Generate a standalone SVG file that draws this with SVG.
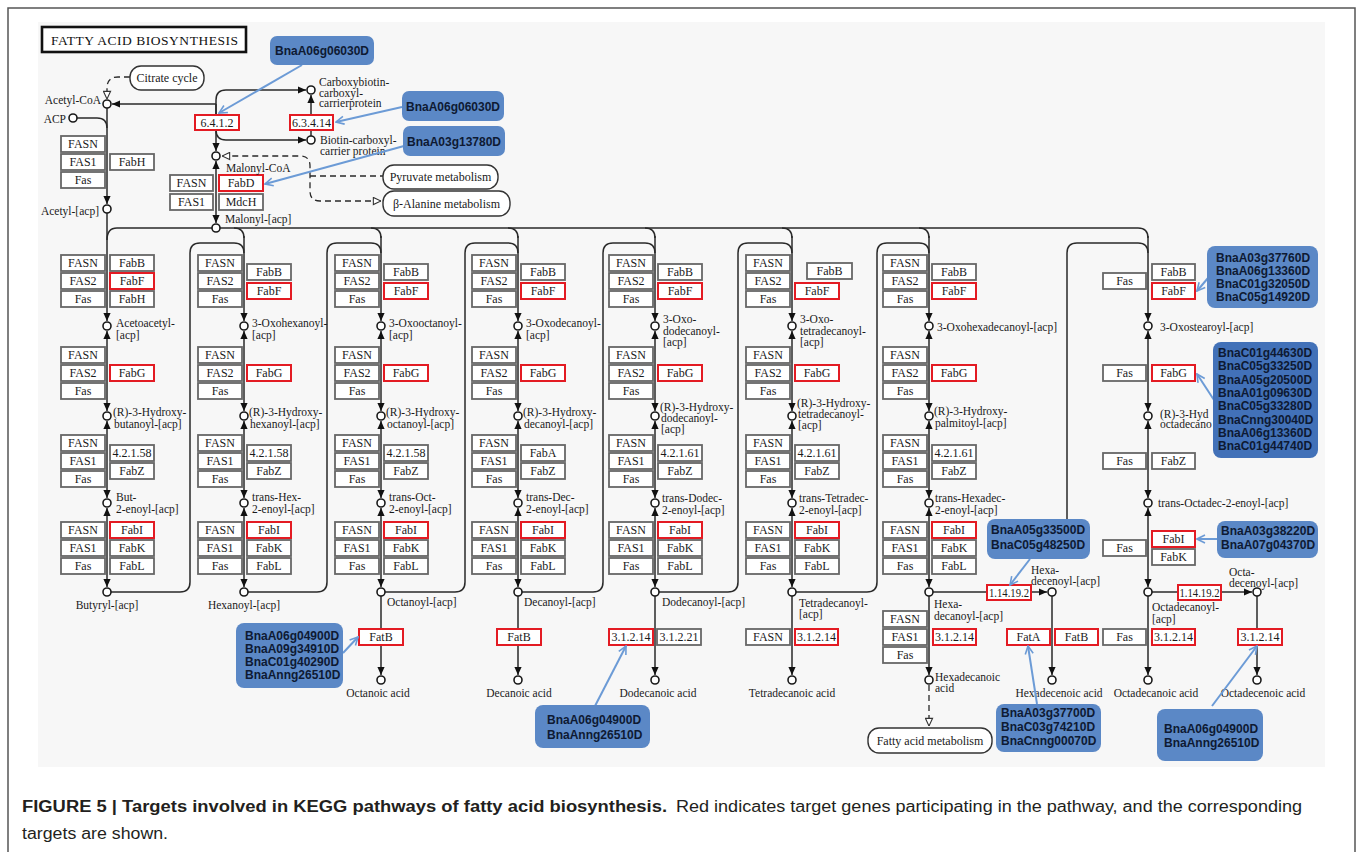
<svg xmlns="http://www.w3.org/2000/svg" width="1357" height="852" viewBox="0 0 1357 852">
<defs>
<style>
.bx{fill:#fff;stroke:#666;stroke-width:1.8}
.rb{fill:#fff;stroke:#e31b23;stroke-width:2}
.bt{font-family:"Liberation Serif","Times New Roman",serif;font-size:12px;fill:#1a1a1a;text-anchor:middle}
.lb{font-family:"Liberation Serif","Times New Roman",serif;font-size:11.5px;fill:#1a1a1a}
.mid{text-anchor:middle}
.end{text-anchor:end}
.ln{fill:none;stroke:#2a2a2a;stroke-width:1.5}
.dl{fill:none;stroke:#2a2a2a;stroke-width:1.3;stroke-dasharray:6 4}
.cp{fill:#fff;stroke:#1a1a1a;stroke-width:1.6}
.pw{fill:#fff;stroke:#333;stroke-width:1.4}
.bn{fill:#5b88c6}
.bn2{fill:#4271b8}
.bnt{font-family:"Liberation Sans",Arial,sans-serif;font-size:12px;font-weight:bold;fill:#0e1a33}
.ba{fill:none;stroke:#6c9bd6;stroke-width:2}
.cap{font-family:"Liberation Sans",Arial,sans-serif;font-size:16px;fill:#231f20}
</style>
<marker id="ah" viewBox="0 0 10 10" refX="10" refY="5" markerWidth="8" markerHeight="8" markerUnits="userSpaceOnUse" orient="auto-start-reverse"><path d="M0,0.5L10,5L0,9.5z" fill="#111"/></marker>
<marker id="ho" viewBox="0 0 10 10" refX="9.5" refY="5" markerWidth="9" markerHeight="9" markerUnits="userSpaceOnUse" orient="auto-start-reverse"><path d="M1,1L9.5,5L1,9z" fill="#fff" stroke="#333" stroke-width="1.2"/></marker>
<marker id="bh" viewBox="0 0 10 10" refX="9" refY="5" markerWidth="10" markerHeight="10" markerUnits="userSpaceOnUse" orient="auto"><path d="M1,1L9,5L1,9" fill="none" stroke="#6c9bd6" stroke-width="1.6"/></marker>
</defs>
<rect width="1357" height="852" fill="#fff"/>
<path d="M8,852V8H1355V852" fill="none" stroke="#555" stroke-width="1.5"/>
<rect x="38" y="22" width="1287" height="745" fill="#f7f7f7"/>
<g id="title"><rect x="42" y="27" width="204" height="25" fill="#fff" stroke="#111" stroke-width="2.6"/><text x="51" y="45" font-family="Liberation Serif, serif" font-size="13.5" fill="#111" textLength="187" lengthAdjust="spacing">FATTY ACID BIOSYNTHESIS</text></g>

<g id="connectors">
<path class="dl" d="M130,77H118Q107,77 107,88V99" marker-end="url(#ho)"/>
<path class="ln" d="M107,108V204" marker-end="url(#ah)"/>
<path class="ln" d="M77,118H97Q107,118 107,128"/>
<path class="ln" d="M216,104H112" marker-end="url(#ah)"/>
<path class="ln" d="M216,104V100Q216,90 226,90H306" marker-end="url(#ah)"/>
<path class="ln" d="M216,104V130Q216,140 226,140H306" marker-end="url(#ah)"/>
<path class="ln" d="M216,104V151" marker-end="url(#ah)"/>
<path class="ln" d="M311,136V95" marker-end="url(#ah)"/>
<path class="ln" d="M216,161V223" marker-start="url(#ah)" marker-end="url(#ah)"/>
<path class="dl" d="M381,201H320Q310,201 310,191V166Q310,156 300,156H222" marker-start="url(#ho)" marker-end="url(#ho)"/>
<path class="dl" d="M310,176H383"/>
<path class="ln" d="M107,240Q107,228 117,228H1138Q1148,228 1148,238"/>
<path class="ln" d="M234,228Q244,228 244,238M371,228Q381,228 381,238M508,228Q518,228 518,238M645,228Q655,228 655,238M782,228Q792,228 792,238M919,228Q929,228 929,238"/>
<path class="ln" d="M107,213V321" marker-end="url(#ah)"/>
<path class="ln" d="M244,236V321" marker-end="url(#ah)"/>
<path class="ln" d="M381,236V321" marker-end="url(#ah)"/>
<path class="ln" d="M518,236V321" marker-end="url(#ah)"/>
<path class="ln" d="M655,236V321" marker-end="url(#ah)"/>
<path class="ln" d="M792,236V321" marker-end="url(#ah)"/>
<path class="ln" d="M929,236V321" marker-end="url(#ah)"/>
<path class="ln" d="M1148,236V321" marker-end="url(#ah)"/>
<path class="ln" d="M107,331V411" marker-start="url(#ah)" marker-end="url(#ah)"/>
<path class="ln" d="M244,331V411" marker-start="url(#ah)" marker-end="url(#ah)"/>
<path class="ln" d="M381,331V411" marker-start="url(#ah)" marker-end="url(#ah)"/>
<path class="ln" d="M518,331V411" marker-start="url(#ah)" marker-end="url(#ah)"/>
<path class="ln" d="M655,331V411" marker-start="url(#ah)" marker-end="url(#ah)"/>
<path class="ln" d="M792,331V411" marker-start="url(#ah)" marker-end="url(#ah)"/>
<path class="ln" d="M929,331V411" marker-start="url(#ah)" marker-end="url(#ah)"/>
<path class="ln" d="M1148,331V411" marker-start="url(#ah)" marker-end="url(#ah)"/>
<path class="ln" d="M107,421V498" marker-start="url(#ah)" marker-end="url(#ah)"/>
<path class="ln" d="M244,421V498" marker-start="url(#ah)" marker-end="url(#ah)"/>
<path class="ln" d="M381,421V498" marker-start="url(#ah)" marker-end="url(#ah)"/>
<path class="ln" d="M518,421V498" marker-start="url(#ah)" marker-end="url(#ah)"/>
<path class="ln" d="M655,421V498" marker-start="url(#ah)" marker-end="url(#ah)"/>
<path class="ln" d="M792,421V498" marker-start="url(#ah)" marker-end="url(#ah)"/>
<path class="ln" d="M929,421V498" marker-start="url(#ah)" marker-end="url(#ah)"/>
<path class="ln" d="M1148,421V498" marker-start="url(#ah)" marker-end="url(#ah)"/>
<path class="ln" d="M107,508V587" marker-start="url(#ah)" marker-end="url(#ah)"/>
<path class="ln" d="M244,508V587" marker-start="url(#ah)" marker-end="url(#ah)"/>
<path class="ln" d="M381,508V587" marker-start="url(#ah)" marker-end="url(#ah)"/>
<path class="ln" d="M518,508V587" marker-start="url(#ah)" marker-end="url(#ah)"/>
<path class="ln" d="M655,508V587" marker-start="url(#ah)" marker-end="url(#ah)"/>
<path class="ln" d="M792,508V587" marker-start="url(#ah)" marker-end="url(#ah)"/>
<path class="ln" d="M929,508V587" marker-start="url(#ah)" marker-end="url(#ah)"/>
<path class="ln" d="M1148,508V587" marker-start="url(#ah)" marker-end="url(#ah)"/>
<path class="ln" d="M111,592H180Q190,592 190,582V253Q190,243 200,243H234Q244,243 244,253"/>
<path class="ln" d="M248,592H317Q327,592 327,582V253Q327,243 337,243H371Q381,243 381,253"/>
<path class="ln" d="M385,592H455Q465,592 465,582V253Q465,243 475,243H508Q518,243 518,253"/>
<path class="ln" d="M522,592H593Q603,592 603,582V253Q603,243 613,243H645Q655,243 655,253"/>
<path class="ln" d="M659,592H728Q738,592 738,582V253Q738,243 748,243H782Q792,243 792,253"/>
<path class="ln" d="M796,592H867Q877,592 877,582V253Q877,243 887,243H919Q929,243 929,253"/>
<path class="ln" d="M1067,535V253Q1067,243 1077,243H1138Q1148,243 1148,253"/>
<path class="ln" d="M381,596V675" marker-end="url(#ah)"/>
<path class="ln" d="M518,596V675" marker-end="url(#ah)"/>
<path class="ln" d="M655,596V675" marker-end="url(#ah)"/>
<path class="ln" d="M792,596V675" marker-end="url(#ah)"/>
<path class="ln" d="M929,596V675" marker-end="url(#ah)"/>
<path class="ln" d="M1052,596V675" marker-end="url(#ah)"/>
<path class="ln" d="M1148,596V675" marker-end="url(#ah)"/>
<path class="ln" d="M1257,596V675" marker-end="url(#ah)"/>
<path class="dl" d="M929,685V726" marker-end="url(#ho)"/>
<path class="ln" d="M933,592H987"/>
<path class="ln" d="M1031,592H1047" marker-end="url(#ah)"/>
<path class="ln" d="M1152,592H1178"/>
<path class="ln" d="M1221,592H1252" marker-end="url(#ah)"/>
</g>

<g id="pathway-links">
<g id="p-citrate"><rect class="pw" x="130" y="66" width="74" height="24" rx="11"/><text class="bt" x="167" y="82">Citrate cycle</text></g>
<g id="p-pyruvate"><rect class="pw" x="383" y="165" width="115" height="24" rx="11"/><text class="bt" x="440.5" y="181">Pyruvate metabolism</text></g>
<g id="p-balanine"><rect class="pw" x="383" y="191" width="127" height="25" rx="11"/><text class="bt" x="446.5" y="207.5">β-Alanine metabolism</text></g>
<g id="p-fattyacid"><rect class="pw" x="868" y="728" width="124" height="25" rx="11"/><text class="bt" x="930" y="744.5">Fatty acid metabolism</text></g>
</g>

<g id="top-enzymes">
<g id="e-6412"><rect class="rb" x="195" y="115" width="44" height="15"/><text class="bt" x="217" y="127">6.4.1.2</text></g>
<g id="e-63414"><rect class="rb" x="290" y="115" width="43" height="15"/><text class="bt" x="311.5" y="127">6.3.4.14</text></g>
<g id="e-md-fasn"><rect class="bx" x="170" y="175" width="43" height="16"/><text class="bt" x="191.5" y="187.3">FASN</text></g>
<g id="e-md-fabd"><rect class="rb" x="219" y="175" width="44" height="16"/><text class="bt" x="241" y="187.3">FabD</text></g>
<g id="e-md-fas1"><rect class="bx" x="170" y="194" width="43" height="16"/><text class="bt" x="191.5" y="206.3">FAS1</text></g>
<g id="e-md-mdch"><rect class="bx" x="219" y="194" width="44" height="16"/><text class="bt" x="241" y="206.3">MdcH</text></g>
<g id="e-ac-fasn"><rect class="bx" x="61" y="136" width="44" height="16"/><text class="bt" x="83" y="148.3">FASN</text></g>
<g id="e-ac-fas1"><rect class="bx" x="61" y="154" width="44" height="16"/><text class="bt" x="83" y="166.3">FAS1</text></g>
<g id="e-ac-fas"><rect class="bx" x="61" y="172" width="44" height="16"/><text class="bt" x="83" y="184.3">Fas</text></g>
<g id="e-ac-fabh"><rect class="bx" x="110" y="154" width="44" height="16"/><text class="bt" x="132" y="166.3">FabH</text></g>
</g>

<g id="col1" transform="translate(107,0)">
<g id="c1-a1"><rect class="bx" x="-46" y="255" width="44" height="16"/><text class="bt" x="-24" y="267.3">FASN</text></g>
<g id="c1-a2"><rect class="bx" x="-46" y="273" width="44" height="16"/><text class="bt" x="-24" y="285.3">FAS2</text></g>
<g id="c1-a3"><rect class="bx" x="-46" y="291" width="44" height="16"/><text class="bt" x="-24" y="303.3">Fas</text></g>
<g id="c1-a4"><rect class="bx" x="3" y="255" width="44" height="16"/><text class="bt" x="25" y="267.3">FabB</text></g>
<g id="c1-a5"><rect class="rb" x="3" y="273" width="44" height="16"/><text class="bt" x="25" y="285.3">FabF</text></g>
<g id="c1-a6"><rect class="bx" x="3" y="291" width="44" height="16"/><text class="bt" x="25" y="303.3">FabH</text></g>
<g id="c1-b1"><rect class="bx" x="-46" y="347" width="44" height="16"/><text class="bt" x="-24" y="359.3">FASN</text></g>
<g id="c1-b2"><rect class="bx" x="-46" y="365" width="44" height="16"/><text class="bt" x="-24" y="377.3">FAS2</text></g>
<g id="c1-b3"><rect class="bx" x="-46" y="383" width="44" height="16"/><text class="bt" x="-24" y="395.3">Fas</text></g>
<g id="c1-b4"><rect class="rb" x="3" y="365" width="44" height="16"/><text class="bt" x="25" y="377.3">FabG</text></g>
<g id="c1-c1"><rect class="bx" x="-46" y="435" width="44" height="16"/><text class="bt" x="-24" y="447.3">FASN</text></g>
<g id="c1-c2"><rect class="bx" x="-46" y="453" width="44" height="16"/><text class="bt" x="-24" y="465.3">FAS1</text></g>
<g id="c1-c3"><rect class="bx" x="-46" y="471" width="44" height="16"/><text class="bt" x="-24" y="483.3">Fas</text></g>
<g id="c1-c4"><rect class="bx" x="3" y="445" width="44" height="16"/><text class="bt" x="25" y="457.3">4.2.1.58</text></g>
<g id="c1-c5"><rect class="bx" x="3" y="463" width="44" height="16"/><text class="bt" x="25" y="475.3">FabZ</text></g>
<g id="c1-d1"><rect class="bx" x="-46" y="522" width="44" height="16"/><text class="bt" x="-24" y="534.3">FASN</text></g>
<g id="c1-d2"><rect class="bx" x="-46" y="540" width="44" height="16"/><text class="bt" x="-24" y="552.3">FAS1</text></g>
<g id="c1-d3"><rect class="bx" x="-46" y="558" width="44" height="16"/><text class="bt" x="-24" y="570.3">Fas</text></g>
<g id="c1-d4"><rect class="rb" x="3" y="522" width="44" height="16"/><text class="bt" x="25" y="534.3">FabI</text></g>
<g id="c1-d5"><rect class="bx" x="3" y="540" width="44" height="16"/><text class="bt" x="25" y="552.3">FabK</text></g>
<g id="c1-d6"><rect class="bx" x="3" y="558" width="44" height="16"/><text class="bt" x="25" y="570.3">FabL</text></g>
</g>

<g id="col2" transform="translate(244,0)">
<g id="c2-a1"><rect class="bx" x="-46" y="255" width="44" height="16"/><text class="bt" x="-24" y="267.3">FASN</text></g>
<g id="c2-a2"><rect class="bx" x="-46" y="273" width="44" height="16"/><text class="bt" x="-24" y="285.3">FAS2</text></g>
<g id="c2-a3"><rect class="bx" x="-46" y="291" width="44" height="16"/><text class="bt" x="-24" y="303.3">Fas</text></g>
<g id="c2-a4"><rect class="bx" x="3" y="264" width="44" height="16"/><text class="bt" x="25" y="276.3">FabB</text></g>
<g id="c2-a5"><rect class="rb" x="3" y="283" width="44" height="16"/><text class="bt" x="25" y="295.3">FabF</text></g>
<g id="c2-b1"><rect class="bx" x="-46" y="347" width="44" height="16"/><text class="bt" x="-24" y="359.3">FASN</text></g>
<g id="c2-b2"><rect class="bx" x="-46" y="365" width="44" height="16"/><text class="bt" x="-24" y="377.3">FAS2</text></g>
<g id="c2-b3"><rect class="bx" x="-46" y="383" width="44" height="16"/><text class="bt" x="-24" y="395.3">Fas</text></g>
<g id="c2-b4"><rect class="rb" x="3" y="365" width="44" height="16"/><text class="bt" x="25" y="377.3">FabG</text></g>
<g id="c2-c1"><rect class="bx" x="-46" y="435" width="44" height="16"/><text class="bt" x="-24" y="447.3">FASN</text></g>
<g id="c2-c2"><rect class="bx" x="-46" y="453" width="44" height="16"/><text class="bt" x="-24" y="465.3">FAS1</text></g>
<g id="c2-c3"><rect class="bx" x="-46" y="471" width="44" height="16"/><text class="bt" x="-24" y="483.3">Fas</text></g>
<g id="c2-c4"><rect class="bx" x="3" y="445" width="44" height="16"/><text class="bt" x="25" y="457.3">4.2.1.58</text></g>
<g id="c2-c5"><rect class="bx" x="3" y="463" width="44" height="16"/><text class="bt" x="25" y="475.3">FabZ</text></g>
<g id="c2-d1"><rect class="bx" x="-46" y="522" width="44" height="16"/><text class="bt" x="-24" y="534.3">FASN</text></g>
<g id="c2-d2"><rect class="bx" x="-46" y="540" width="44" height="16"/><text class="bt" x="-24" y="552.3">FAS1</text></g>
<g id="c2-d3"><rect class="bx" x="-46" y="558" width="44" height="16"/><text class="bt" x="-24" y="570.3">Fas</text></g>
<g id="c2-d4"><rect class="rb" x="3" y="522" width="44" height="16"/><text class="bt" x="25" y="534.3">FabI</text></g>
<g id="c2-d5"><rect class="bx" x="3" y="540" width="44" height="16"/><text class="bt" x="25" y="552.3">FabK</text></g>
<g id="c2-d6"><rect class="bx" x="3" y="558" width="44" height="16"/><text class="bt" x="25" y="570.3">FabL</text></g>
</g>

<g id="col3" transform="translate(381,0)">
<g id="c3-a1"><rect class="bx" x="-46" y="255" width="44" height="16"/><text class="bt" x="-24" y="267.3">FASN</text></g>
<g id="c3-a2"><rect class="bx" x="-46" y="273" width="44" height="16"/><text class="bt" x="-24" y="285.3">FAS2</text></g>
<g id="c3-a3"><rect class="bx" x="-46" y="291" width="44" height="16"/><text class="bt" x="-24" y="303.3">Fas</text></g>
<g id="c3-a4"><rect class="bx" x="3" y="264" width="44" height="16"/><text class="bt" x="25" y="276.3">FabB</text></g>
<g id="c3-a5"><rect class="rb" x="3" y="283" width="44" height="16"/><text class="bt" x="25" y="295.3">FabF</text></g>
<g id="c3-b1"><rect class="bx" x="-46" y="347" width="44" height="16"/><text class="bt" x="-24" y="359.3">FASN</text></g>
<g id="c3-b2"><rect class="bx" x="-46" y="365" width="44" height="16"/><text class="bt" x="-24" y="377.3">FAS2</text></g>
<g id="c3-b3"><rect class="bx" x="-46" y="383" width="44" height="16"/><text class="bt" x="-24" y="395.3">Fas</text></g>
<g id="c3-b4"><rect class="rb" x="3" y="365" width="44" height="16"/><text class="bt" x="25" y="377.3">FabG</text></g>
<g id="c3-c1"><rect class="bx" x="-46" y="435" width="44" height="16"/><text class="bt" x="-24" y="447.3">FASN</text></g>
<g id="c3-c2"><rect class="bx" x="-46" y="453" width="44" height="16"/><text class="bt" x="-24" y="465.3">FAS1</text></g>
<g id="c3-c3"><rect class="bx" x="-46" y="471" width="44" height="16"/><text class="bt" x="-24" y="483.3">Fas</text></g>
<g id="c3-c4"><rect class="bx" x="3" y="445" width="44" height="16"/><text class="bt" x="25" y="457.3">4.2.1.58</text></g>
<g id="c3-c5"><rect class="bx" x="3" y="463" width="44" height="16"/><text class="bt" x="25" y="475.3">FabZ</text></g>
<g id="c3-d1"><rect class="bx" x="-46" y="522" width="44" height="16"/><text class="bt" x="-24" y="534.3">FASN</text></g>
<g id="c3-d2"><rect class="bx" x="-46" y="540" width="44" height="16"/><text class="bt" x="-24" y="552.3">FAS1</text></g>
<g id="c3-d3"><rect class="bx" x="-46" y="558" width="44" height="16"/><text class="bt" x="-24" y="570.3">Fas</text></g>
<g id="c3-d4"><rect class="rb" x="3" y="522" width="44" height="16"/><text class="bt" x="25" y="534.3">FabI</text></g>
<g id="c3-d5"><rect class="bx" x="3" y="540" width="44" height="16"/><text class="bt" x="25" y="552.3">FabK</text></g>
<g id="c3-d6"><rect class="bx" x="3" y="558" width="44" height="16"/><text class="bt" x="25" y="570.3">FabL</text></g>
<g id="c3-e1"><rect class="rb" x="-22" y="629" width="44" height="16"/><text class="bt" x="0" y="641.3">FatB</text></g>
</g>

<g id="col4" transform="translate(518,0)">
<g id="c4-a1"><rect class="bx" x="-46" y="255" width="44" height="16"/><text class="bt" x="-24" y="267.3">FASN</text></g>
<g id="c4-a2"><rect class="bx" x="-46" y="273" width="44" height="16"/><text class="bt" x="-24" y="285.3">FAS2</text></g>
<g id="c4-a3"><rect class="bx" x="-46" y="291" width="44" height="16"/><text class="bt" x="-24" y="303.3">Fas</text></g>
<g id="c4-a4"><rect class="bx" x="3" y="264" width="44" height="16"/><text class="bt" x="25" y="276.3">FabB</text></g>
<g id="c4-a5"><rect class="rb" x="3" y="283" width="44" height="16"/><text class="bt" x="25" y="295.3">FabF</text></g>
<g id="c4-b1"><rect class="bx" x="-46" y="347" width="44" height="16"/><text class="bt" x="-24" y="359.3">FASN</text></g>
<g id="c4-b2"><rect class="bx" x="-46" y="365" width="44" height="16"/><text class="bt" x="-24" y="377.3">FAS2</text></g>
<g id="c4-b3"><rect class="bx" x="-46" y="383" width="44" height="16"/><text class="bt" x="-24" y="395.3">Fas</text></g>
<g id="c4-b4"><rect class="rb" x="3" y="365" width="44" height="16"/><text class="bt" x="25" y="377.3">FabG</text></g>
<g id="c4-c1"><rect class="bx" x="-46" y="435" width="44" height="16"/><text class="bt" x="-24" y="447.3">FASN</text></g>
<g id="c4-c2"><rect class="bx" x="-46" y="453" width="44" height="16"/><text class="bt" x="-24" y="465.3">FAS1</text></g>
<g id="c4-c3"><rect class="bx" x="-46" y="471" width="44" height="16"/><text class="bt" x="-24" y="483.3">Fas</text></g>
<g id="c4-c4"><rect class="bx" x="3" y="445" width="44" height="16"/><text class="bt" x="25" y="457.3">FabA</text></g>
<g id="c4-c5"><rect class="bx" x="3" y="463" width="44" height="16"/><text class="bt" x="25" y="475.3">FabZ</text></g>
<g id="c4-d1"><rect class="bx" x="-46" y="522" width="44" height="16"/><text class="bt" x="-24" y="534.3">FASN</text></g>
<g id="c4-d2"><rect class="bx" x="-46" y="540" width="44" height="16"/><text class="bt" x="-24" y="552.3">FAS1</text></g>
<g id="c4-d3"><rect class="bx" x="-46" y="558" width="44" height="16"/><text class="bt" x="-24" y="570.3">Fas</text></g>
<g id="c4-d4"><rect class="rb" x="3" y="522" width="44" height="16"/><text class="bt" x="25" y="534.3">FabI</text></g>
<g id="c4-d5"><rect class="bx" x="3" y="540" width="44" height="16"/><text class="bt" x="25" y="552.3">FabK</text></g>
<g id="c4-d6"><rect class="bx" x="3" y="558" width="44" height="16"/><text class="bt" x="25" y="570.3">FabL</text></g>
<g id="c4-e1"><rect class="rb" x="-21" y="629" width="44" height="16"/><text class="bt" x="1" y="641.3">FatB</text></g>
</g>

<g id="col5" transform="translate(655,0)">
<g id="c5-a1"><rect class="bx" x="-46" y="255" width="44" height="16"/><text class="bt" x="-24" y="267.3">FASN</text></g>
<g id="c5-a2"><rect class="bx" x="-46" y="273" width="44" height="16"/><text class="bt" x="-24" y="285.3">FAS2</text></g>
<g id="c5-a3"><rect class="bx" x="-46" y="291" width="44" height="16"/><text class="bt" x="-24" y="303.3">Fas</text></g>
<g id="c5-a4"><rect class="bx" x="3" y="264" width="44" height="16"/><text class="bt" x="25" y="276.3">FabB</text></g>
<g id="c5-a5"><rect class="rb" x="3" y="283" width="44" height="16"/><text class="bt" x="25" y="295.3">FabF</text></g>
<g id="c5-b1"><rect class="bx" x="-46" y="347" width="44" height="16"/><text class="bt" x="-24" y="359.3">FASN</text></g>
<g id="c5-b2"><rect class="bx" x="-46" y="365" width="44" height="16"/><text class="bt" x="-24" y="377.3">FAS2</text></g>
<g id="c5-b3"><rect class="bx" x="-46" y="383" width="44" height="16"/><text class="bt" x="-24" y="395.3">Fas</text></g>
<g id="c5-b4"><rect class="rb" x="3" y="365" width="44" height="16"/><text class="bt" x="25" y="377.3">FabG</text></g>
<g id="c5-c1"><rect class="bx" x="-46" y="435" width="44" height="16"/><text class="bt" x="-24" y="447.3">FASN</text></g>
<g id="c5-c2"><rect class="bx" x="-46" y="453" width="44" height="16"/><text class="bt" x="-24" y="465.3">FAS1</text></g>
<g id="c5-c3"><rect class="bx" x="-46" y="471" width="44" height="16"/><text class="bt" x="-24" y="483.3">Fas</text></g>
<g id="c5-c4"><rect class="bx" x="3" y="445" width="44" height="16"/><text class="bt" x="25" y="457.3">4.2.1.61</text></g>
<g id="c5-c5"><rect class="bx" x="3" y="463" width="44" height="16"/><text class="bt" x="25" y="475.3">FabZ</text></g>
<g id="c5-d1"><rect class="bx" x="-46" y="522" width="44" height="16"/><text class="bt" x="-24" y="534.3">FASN</text></g>
<g id="c5-d2"><rect class="bx" x="-46" y="540" width="44" height="16"/><text class="bt" x="-24" y="552.3">FAS1</text></g>
<g id="c5-d3"><rect class="bx" x="-46" y="558" width="44" height="16"/><text class="bt" x="-24" y="570.3">Fas</text></g>
<g id="c5-d4"><rect class="rb" x="3" y="522" width="44" height="16"/><text class="bt" x="25" y="534.3">FabI</text></g>
<g id="c5-d5"><rect class="bx" x="3" y="540" width="44" height="16"/><text class="bt" x="25" y="552.3">FabK</text></g>
<g id="c5-d6"><rect class="bx" x="3" y="558" width="44" height="16"/><text class="bt" x="25" y="570.3">FabL</text></g>
<g id="c5-e1"><rect class="rb" x="-46" y="629" width="44" height="16"/><text class="bt" x="-24" y="641.3">3.1.2.14</text></g>
<g id="c5-e2"><rect class="bx" x="2" y="629" width="44" height="16"/><text class="bt" x="24" y="641.3">3.1.2.21</text></g>
</g>

<g id="col6" transform="translate(792,0)">
<g id="c6-a1"><rect class="bx" x="-46" y="255" width="44" height="16"/><text class="bt" x="-24" y="267.3">FASN</text></g>
<g id="c6-a2"><rect class="bx" x="-46" y="273" width="44" height="16"/><text class="bt" x="-24" y="285.3">FAS2</text></g>
<g id="c6-a3"><rect class="bx" x="-46" y="291" width="44" height="16"/><text class="bt" x="-24" y="303.3">Fas</text></g>
<g id="c6-a4"><rect class="bx" x="15" y="263" width="45" height="16"/><text class="bt" x="37.5" y="275.3">FabB</text></g>
<g id="c6-a5"><rect class="rb" x="3" y="283" width="44" height="16"/><text class="bt" x="25" y="295.3">FabF</text></g>
<g id="c6-b1"><rect class="bx" x="-46" y="347" width="44" height="16"/><text class="bt" x="-24" y="359.3">FASN</text></g>
<g id="c6-b2"><rect class="bx" x="-46" y="365" width="44" height="16"/><text class="bt" x="-24" y="377.3">FAS2</text></g>
<g id="c6-b3"><rect class="bx" x="-46" y="383" width="44" height="16"/><text class="bt" x="-24" y="395.3">Fas</text></g>
<g id="c6-b4"><rect class="rb" x="3" y="365" width="44" height="16"/><text class="bt" x="25" y="377.3">FabG</text></g>
<g id="c6-c1"><rect class="bx" x="-46" y="435" width="44" height="16"/><text class="bt" x="-24" y="447.3">FASN</text></g>
<g id="c6-c2"><rect class="bx" x="-46" y="453" width="44" height="16"/><text class="bt" x="-24" y="465.3">FAS1</text></g>
<g id="c6-c3"><rect class="bx" x="-46" y="471" width="44" height="16"/><text class="bt" x="-24" y="483.3">Fas</text></g>
<g id="c6-c4"><rect class="bx" x="3" y="445" width="44" height="16"/><text class="bt" x="25" y="457.3">4.2.1.61</text></g>
<g id="c6-c5"><rect class="bx" x="3" y="463" width="44" height="16"/><text class="bt" x="25" y="475.3">FabZ</text></g>
<g id="c6-d1"><rect class="bx" x="-46" y="522" width="44" height="16"/><text class="bt" x="-24" y="534.3">FASN</text></g>
<g id="c6-d2"><rect class="bx" x="-46" y="540" width="44" height="16"/><text class="bt" x="-24" y="552.3">FAS1</text></g>
<g id="c6-d3"><rect class="bx" x="-46" y="558" width="44" height="16"/><text class="bt" x="-24" y="570.3">Fas</text></g>
<g id="c6-d4"><rect class="rb" x="3" y="522" width="44" height="16"/><text class="bt" x="25" y="534.3">FabI</text></g>
<g id="c6-d5"><rect class="bx" x="3" y="540" width="44" height="16"/><text class="bt" x="25" y="552.3">FabK</text></g>
<g id="c6-d6"><rect class="bx" x="3" y="558" width="44" height="16"/><text class="bt" x="25" y="570.3">FabL</text></g>
<g id="c6-e1"><rect class="bx" x="-46" y="629" width="44" height="16"/><text class="bt" x="-24" y="641.3">FASN</text></g>
<g id="c6-e2"><rect class="rb" x="3" y="629" width="43" height="16"/><text class="bt" x="24.5" y="641.3">3.1.2.14</text></g>
</g>

<g id="col7" transform="translate(929,0)">
<g id="c7-a1"><rect class="bx" x="-46" y="255" width="44" height="16"/><text class="bt" x="-24" y="267.3">FASN</text></g>
<g id="c7-a2"><rect class="bx" x="-46" y="273" width="44" height="16"/><text class="bt" x="-24" y="285.3">FAS2</text></g>
<g id="c7-a3"><rect class="bx" x="-46" y="291" width="44" height="16"/><text class="bt" x="-24" y="303.3">Fas</text></g>
<g id="c7-a4"><rect class="bx" x="3" y="264" width="44" height="16"/><text class="bt" x="25" y="276.3">FabB</text></g>
<g id="c7-a5"><rect class="rb" x="3" y="283" width="44" height="16"/><text class="bt" x="25" y="295.3">FabF</text></g>
<g id="c7-b1"><rect class="bx" x="-46" y="347" width="44" height="16"/><text class="bt" x="-24" y="359.3">FASN</text></g>
<g id="c7-b2"><rect class="bx" x="-46" y="365" width="44" height="16"/><text class="bt" x="-24" y="377.3">FAS2</text></g>
<g id="c7-b3"><rect class="bx" x="-46" y="383" width="44" height="16"/><text class="bt" x="-24" y="395.3">Fas</text></g>
<g id="c7-b4"><rect class="rb" x="3" y="365" width="44" height="16"/><text class="bt" x="25" y="377.3">FabG</text></g>
<g id="c7-c1"><rect class="bx" x="-46" y="435" width="44" height="16"/><text class="bt" x="-24" y="447.3">FASN</text></g>
<g id="c7-c2"><rect class="bx" x="-46" y="453" width="44" height="16"/><text class="bt" x="-24" y="465.3">FAS1</text></g>
<g id="c7-c3"><rect class="bx" x="-46" y="471" width="44" height="16"/><text class="bt" x="-24" y="483.3">Fas</text></g>
<g id="c7-c4"><rect class="bx" x="3" y="445" width="44" height="16"/><text class="bt" x="25" y="457.3">4.2.1.61</text></g>
<g id="c7-c5"><rect class="bx" x="3" y="463" width="44" height="16"/><text class="bt" x="25" y="475.3">FabZ</text></g>
<g id="c7-d1"><rect class="bx" x="-46" y="522" width="44" height="16"/><text class="bt" x="-24" y="534.3">FASN</text></g>
<g id="c7-d2"><rect class="bx" x="-46" y="540" width="44" height="16"/><text class="bt" x="-24" y="552.3">FAS1</text></g>
<g id="c7-d3"><rect class="bx" x="-46" y="558" width="44" height="16"/><text class="bt" x="-24" y="570.3">Fas</text></g>
<g id="c7-d4"><rect class="rb" x="3" y="522" width="44" height="16"/><text class="bt" x="25" y="534.3">FabI</text></g>
<g id="c7-d5"><rect class="bx" x="3" y="540" width="44" height="16"/><text class="bt" x="25" y="552.3">FabK</text></g>
<g id="c7-d6"><rect class="bx" x="3" y="558" width="44" height="16"/><text class="bt" x="25" y="570.3">FabL</text></g>
<g id="c7-e1"><rect class="bx" x="-46" y="611" width="44" height="16"/><text class="bt" x="-24" y="623.3">FASN</text></g>
<g id="c7-e2"><rect class="bx" x="-46" y="629" width="44" height="16"/><text class="bt" x="-24" y="641.3">FAS1</text></g>
<g id="c7-e3"><rect class="bx" x="-46" y="647" width="44" height="16"/><text class="bt" x="-24" y="659.3">Fas</text></g>
<g id="c7-e4"><rect class="rb" x="4" y="629" width="43" height="16"/><text class="bt" x="25.5" y="641.3">3.1.2.14</text></g>
<g id="c7-f1"><rect class="rb" x="58" y="585" width="44" height="15"/><text class="bt" x="80" y="596.5" font-size="11" textLength="40" lengthAdjust="spacingAndGlyphs">1.14.19.2</text></g>
<g id="c7-f2"><rect class="rb" x="78" y="629" width="43" height="16"/><text class="bt" x="99.5" y="641.3">FatA</text></g>
<g id="c7-f3"><rect class="rb" x="126" y="629" width="43" height="16"/><text class="bt" x="147.5" y="641.3">FatB</text></g>
</g>

<g id="col8" transform="translate(1148,0)">
<g id="c8-a1"><rect class="bx" x="-45" y="273" width="43" height="16"/><text class="bt" x="-23.5" y="285.3">Fas</text></g>
<g id="c8-a2"><rect class="bx" x="4" y="264" width="43" height="16"/><text class="bt" x="25.5" y="276.3">FabB</text></g>
<g id="c8-a3"><rect class="rb" x="4" y="283" width="43" height="16"/><text class="bt" x="25.5" y="295.3">FabF</text></g>
<g id="c8-b1"><rect class="bx" x="-45" y="365" width="43" height="16"/><text class="bt" x="-23.5" y="377.3">Fas</text></g>
<g id="c8-b2"><rect class="rb" x="4" y="365" width="43" height="16"/><text class="bt" x="25.5" y="377.3">FabG</text></g>
<g id="c8-c1"><rect class="bx" x="-45" y="453" width="43" height="16"/><text class="bt" x="-23.5" y="465.3">Fas</text></g>
<g id="c8-c2"><rect class="bx" x="4" y="453" width="43" height="16"/><text class="bt" x="25.5" y="465.3">FabZ</text></g>
<g id="c8-d1"><rect class="bx" x="-45" y="540" width="43" height="16"/><text class="bt" x="-23.5" y="552.3">Fas</text></g>
<g id="c8-d2"><rect class="rb" x="4" y="531" width="43" height="16"/><text class="bt" x="25.5" y="543.3">FabI</text></g>
<g id="c8-d3"><rect class="bx" x="4" y="549" width="43" height="16"/><text class="bt" x="25.5" y="561.3">FabK</text></g>
<g id="c8-e1"><rect class="bx" x="-45" y="629" width="43" height="16"/><text class="bt" x="-23.5" y="641.3">Fas</text></g>
<g id="c8-e2"><rect class="rb" x="4" y="629" width="43" height="16"/><text class="bt" x="25.5" y="641.3">3.1.2.14</text></g>
<g id="c8-f1"><rect class="rb" x="30" y="585" width="43" height="15"/><text class="bt" x="51.5" y="596.5" font-size="11" textLength="40" lengthAdjust="spacingAndGlyphs">1.14.19.2</text></g>
<g id="c8-f2"><rect class="rb" x="90" y="629" width="44" height="16"/><text class="bt" x="112" y="641.3">3.1.2.14</text></g>
</g>

<g id="compounds">
<g id="n-acetylcoa"><circle class="cp" cx="107" cy="104" r="4"/><text class="lb end" x="101" y="104">Acetyl-CoA</text></g>
<g id="n-acp"><circle class="cp" cx="73" cy="118" r="4"/><text class="lb end" x="66" y="122.5">ACP</text></g>
<g id="n-acetylacp"><circle class="cp" cx="107" cy="209" r="4"/><text class="lb end" x="99" y="215">Acetyl-[acp]</text></g>
<g id="n-carboxybiotin"><circle class="cp" cx="311" cy="90" r="4"/><text class="lb" x="319" y="86">Carboxybiotin-</text><text class="lb" x="319" y="96.5">carboxyl-</text><text class="lb" x="319" y="107">carrierprotein</text></g>
<g id="n-biotin"><circle class="cp" cx="311" cy="140" r="4"/><text class="lb" x="320" y="144">Biotin-carboxyl-</text><text class="lb" x="320" y="155">carrier protein</text></g>
<g id="n-malonylcoa"><circle class="cp" cx="216" cy="156" r="4"/><text class="lb" x="226" y="172">Malonyl-CoA</text></g>
<g id="n-malonylacp"><circle class="cp" cx="216" cy="228" r="4"/><text class="lb" x="225" y="223">Malonyl-[acp]</text></g>

<g id="n1-oxo"><circle class="cp" cx="107" cy="326" r="4"/><text class="lb" x="116" y="327">Acetoacetyl-</text><text class="lb" x="116" y="339">[acp]</text></g>
<g id="n1-hyd"><circle class="cp" cx="107" cy="416" r="4"/><text class="lb" x="113" y="416">(R)-3-Hydroxy-</text><text class="lb" x="114" y="428">butanoyl-[acp]</text></g>
<g id="n1-en"><circle class="cp" cx="107" cy="503" r="4"/><text class="lb" x="116" y="501">But-</text><text class="lb" x="116" y="513">2-enoyl-[acp]</text></g>
<g id="n1-prod"><circle class="cp" cx="107" cy="592" r="4"/><text class="lb mid" x="107" y="609">Butyryl-[acp]</text></g>

<g id="n2-oxo"><circle class="cp" cx="244" cy="326" r="4"/><text class="lb" x="252" y="327">3-Oxohexanoyl-</text><text class="lb" x="252" y="339">[acp]</text></g>
<g id="n2-hyd"><circle class="cp" cx="244" cy="416" r="4"/><text class="lb" x="249" y="416">(R)-3-Hydroxy-</text><text class="lb" x="250" y="428">hexanoyl-[acp]</text></g>
<g id="n2-en"><circle class="cp" cx="244" cy="503" r="4"/><text class="lb" x="252" y="501">trans-Hex-</text><text class="lb" x="252" y="513">2-enoyl-[acp]</text></g>
<g id="n2-prod"><circle class="cp" cx="244" cy="592" r="4"/><text class="lb mid" x="244" y="609">Hexanoyl-[acp]</text></g>

<g id="n3-oxo"><circle class="cp" cx="381" cy="326" r="4"/><text class="lb" x="389" y="327">3-Oxooctanoyl-</text><text class="lb" x="389" y="339">[acp]</text></g>
<g id="n3-hyd"><circle class="cp" cx="381" cy="416" r="4"/><text class="lb" x="386" y="416">(R)-3-Hydroxy-</text><text class="lb" x="387" y="428">octanoyl-[acp]</text></g>
<g id="n3-en"><circle class="cp" cx="381" cy="503" r="4"/><text class="lb" x="389" y="501">trans-Oct-</text><text class="lb" x="389" y="513">2-enoyl-[acp]</text></g>
<g id="n3-prod"><circle class="cp" cx="381" cy="592" r="4"/><text class="lb" x="387" y="606">Octanoyl-[acp]</text></g>
<g id="n3-acid"><circle class="cp" cx="381" cy="680" r="4"/><text class="lb mid" x="378" y="697">Octanoic acid</text></g>

<g id="n4-oxo"><circle class="cp" cx="518" cy="326" r="4"/><text class="lb" x="526" y="327">3-Oxodecanoyl-</text><text class="lb" x="526" y="339">[acp]</text></g>
<g id="n4-hyd"><circle class="cp" cx="518" cy="416" r="4"/><text class="lb" x="523" y="416">(R)-3-Hydroxy-</text><text class="lb" x="524" y="428">decanoyl-[acp]</text></g>
<g id="n4-en"><circle class="cp" cx="518" cy="503" r="4"/><text class="lb" x="526" y="501">trans-Dec-</text><text class="lb" x="526" y="513">2-enoyl-[acp]</text></g>
<g id="n4-prod"><circle class="cp" cx="518" cy="592" r="4"/><text class="lb" x="524" y="606">Decanoyl-[acp]</text></g>
<g id="n4-acid"><circle class="cp" cx="518" cy="680" r="4"/><text class="lb mid" x="519" y="697">Decanoic acid</text></g>

<g id="n5-oxo"><circle class="cp" cx="655" cy="326" r="4"/><text class="lb" x="663" y="323">3-Oxo-</text><text class="lb" x="663" y="334.5">dodecanoyl-</text><text class="lb" x="663" y="346">[acp]</text></g>
<g id="n5-hyd"><circle class="cp" cx="655" cy="416" r="4"/><text class="lb" x="660" y="411">(R)-3-Hydroxy-</text><text class="lb" x="661" y="422">dodecanoyl-</text><text class="lb" x="661" y="433">[acp]</text></g>
<g id="n5-en"><circle class="cp" cx="655" cy="503" r="4"/><text class="lb" x="662" y="502">trans-Dodec-</text><text class="lb" x="662" y="514">2-enoyl-[acp]</text></g>
<g id="n5-prod"><circle class="cp" cx="655" cy="592" r="4"/><text class="lb" x="662" y="606">Dodecanoyl-[acp]</text></g>
<g id="n5-acid"><circle class="cp" cx="655" cy="680" r="4"/><text class="lb mid" x="658" y="697">Dodecanoic acid</text></g>

<g id="n6-oxo"><circle class="cp" cx="792" cy="326" r="4"/><text class="lb" x="800" y="323">3-Oxo-</text><text class="lb" x="800" y="334.5">tetradecanoyl-</text><text class="lb" x="800" y="346">[acp]</text></g>
<g id="n6-hyd"><circle class="cp" cx="792" cy="416" r="4"/><text class="lb" x="797" y="407">(R)-3-Hydroxy-</text><text class="lb" x="798" y="418">tetradecanoyl-</text><text class="lb" x="798" y="429">[acp]</text></g>
<g id="n6-en"><circle class="cp" cx="792" cy="503" r="4"/><text class="lb" x="799" y="502">trans-Tetradec-</text><text class="lb" x="799" y="514">2-enoyl-[acp]</text></g>
<g id="n6-prod"><circle class="cp" cx="792" cy="592" r="4"/><text class="lb" x="799" y="607">Tetradecanoyl-</text><text class="lb" x="799" y="618">[acp]</text></g>
<g id="n6-acid"><circle class="cp" cx="792" cy="680" r="4"/><text class="lb mid" x="792" y="697">Tetradecanoic acid</text></g>

<g id="n7-oxo"><circle class="cp" cx="929" cy="326" r="4"/><text class="lb" x="937" y="331">3-Oxohexadecanoyl-[acp]</text></g>
<g id="n7-hyd"><circle class="cp" cx="929" cy="416" r="4"/><text class="lb" x="934" y="415">(R)-3-Hydroxy-</text><text class="lb" x="935" y="427">palmitoyl-[acp]</text></g>
<g id="n7-en"><circle class="cp" cx="929" cy="503" r="4"/><text class="lb" x="935" y="502">trans-Hexadec-</text><text class="lb" x="935" y="514">2-enoyl-[acp]</text></g>
<g id="n7-prod"><circle class="cp" cx="929" cy="592" r="4"/><text class="lb" x="934" y="608">Hexa-</text><text class="lb" x="934" y="620">decanoyl-[acp]</text></g>
<g id="n7-acid"><circle class="cp" cx="929" cy="680" r="4"/><text class="lb" x="935" y="681">Hexadecanoic</text><text class="lb" x="935" y="692">acid</text></g>
<g id="n7-desat"><circle class="cp" cx="1052" cy="592" r="4"/><text class="lb" x="1031" y="574">Hexa-</text><text class="lb" x="1031" y="585">decenoyl-[acp]</text></g>
<g id="n7-desat-acid"><circle class="cp" cx="1052" cy="680" r="4"/><text class="lb mid" x="1059" y="697">Hexadecenoic acid</text></g>

<g id="n8-oxo"><circle class="cp" cx="1148" cy="326" r="4"/><text class="lb" x="1160" y="331">3-Oxostearoyl-[acp]</text></g>
<g id="n8-hyd"><circle class="cp" cx="1148" cy="416" r="4"/><text class="lb" x="1160" y="418">(R)-3-Hyd</text><text class="lb" x="1160" y="428">octadecano</text></g>
<g id="n8-en"><circle class="cp" cx="1148" cy="503" r="4"/><text class="lb" x="1158" y="507">trans-Octadec-2-enoyl-[acp]</text></g>
<g id="n8-prod"><circle class="cp" cx="1148" cy="592" r="4"/><text class="lb" x="1152" y="611">Octadecanoyl-</text><text class="lb" x="1152" y="623">[acp]</text></g>
<g id="n8-acid"><circle class="cp" cx="1148" cy="680" r="4"/><text class="lb mid" x="1156" y="697">Octadecanoic acid</text></g>
<g id="n8-desat"><circle class="cp" cx="1257" cy="592" r="4"/><text class="lb" x="1229" y="576">Octa-</text><text class="lb" x="1229" y="587">decenoyl-[acp]</text></g>
<g id="n8-desat-acid"><circle class="cp" cx="1257" cy="680" r="4"/><text class="lb mid" x="1263" y="697">Octadecenoic acid</text></g>
</g>

<g id="annotation-links">
<path class="ba" d="M302,65L219,113" marker-end="url(#bh)"/>
<path class="ba" d="M402,107L336,122" marker-end="url(#bh)"/>
<path class="ba" d="M404,146L265,184" marker-end="url(#bh)"/>
<path class="ba" d="M1208,278L1197,291" marker-end="url(#bh)"/>
<path class="ba" d="M1214,400L1197,374" marker-end="url(#bh)"/>
<path class="ba" d="M1218,539L1197,539" marker-end="url(#bh)"/>
<path class="ba" d="M1030,559L1010,585" marker-end="url(#bh)"/>
<path class="ba" d="M1037,704L1028,646" marker-end="url(#bh)"/>
<path class="ba" d="M1212,706L1257,646" marker-end="url(#bh)"/>
<path class="ba" d="M595,706L626,646" marker-end="url(#bh)"/>
<path class="ba" d="M343,653L358,637" marker-end="url(#bh)"/>
</g>

<g id="annotations">
<g id="g1"><rect class="bn" x="270" y="36" width="104" height="29" rx="7"/><text class="bnt" x="322" y="54.5" text-anchor="middle">BnaA06g06030D</text></g>
<g id="g2"><rect class="bn" x="402" y="91" width="102" height="30" rx="7"/><text class="bnt" x="453" y="110.5" text-anchor="middle">BnaA06g06030D</text></g>
<g id="g3"><rect class="bn" x="403" y="126" width="102" height="30" rx="7"/><text class="bnt" x="454" y="145.5" text-anchor="middle">BnaA03g13780D</text></g>
<g id="g4"><rect class="bn" x="1207" y="246" width="111" height="62" rx="8"/><text class="bnt" x="1216" y="262">BnaA03g37760D</text><text class="bnt" x="1216" y="275">BnaA06g13360D</text><text class="bnt" x="1216" y="288">BnaC01g32050D</text><text class="bnt" x="1216" y="301">BnaC05g14920D</text></g>
<g id="g5"><rect class="bn2" x="1213" y="342" width="105" height="116" rx="8"/><text class="bnt" x="1218" y="357">BnaC01g44630D</text><text class="bnt" x="1218" y="370.3">BnaC05g33250D</text><text class="bnt" x="1218" y="383.6">BnaA05g20500D</text><text class="bnt" x="1218" y="397">BnaA01g09630D</text><text class="bnt" x="1218" y="410.3">BnaC05g33280D</text><text class="bnt" x="1218" y="423.6">BnaCnng30040D</text><text class="bnt" x="1218" y="437">BnaA06g13360D</text><text class="bnt" x="1218" y="450.3">BnaC01g44740D</text></g>
<g id="g6"><rect class="bn" x="1217" y="521" width="101" height="37" rx="8"/><text class="bnt" x="1221" y="534.5">BnaA03g38220D</text><text class="bnt" x="1221" y="548.5">BnaA07g04370D</text></g>
<g id="g7"><rect class="bn" x="987" y="519" width="103" height="40" rx="8"/><text class="bnt" x="991" y="534">BnaA05g33500D</text><text class="bnt" x="991" y="549">BnaC05g48250D</text></g>
<g id="g8"><rect class="bn" x="996" y="704" width="105" height="48" rx="8"/><text class="bnt" x="1001" y="717">BnaA03g37700D</text><text class="bnt" x="1001" y="731">BnaC03g74210D</text><text class="bnt" x="1001" y="744.5">BnaCnng00070D</text></g>
<g id="g9"><rect class="bn" x="1157" y="709" width="106" height="52" rx="8"/><text class="bnt" x="1164" y="733">BnaA06g04900D</text><text class="bnt" x="1164" y="747">BnaAnng26510D</text></g>
<g id="g10"><rect class="bn" x="535" y="705" width="115" height="43" rx="8"/><text class="bnt" x="547" y="724">BnaA06g04900D</text><text class="bnt" x="547" y="738.5">BnaAnng26510D</text></g>
<g id="g11"><rect class="bn" x="236" y="623" width="107" height="65" rx="8"/><text class="bnt" x="245" y="640">BnaA06g04900D</text><text class="bnt" x="245" y="653">BnaA09g34910D</text><text class="bnt" x="245" y="666">BnaC01g40290D</text><text class="bnt" x="245" y="678.5">BnaAnng26510D</text></g>
</g>

<g id="caption">
<text class="cap" x="22" y="812" font-weight="bold" textLength="645" lengthAdjust="spacingAndGlyphs">FIGURE 5 | Targets involved in KEGG pathways of fatty acid biosynthesis.</text>
<text class="cap" x="676" y="812" textLength="626" lengthAdjust="spacingAndGlyphs">Red indicates target genes participating in the pathway, and the corresponding</text>
<text class="cap" x="22" y="839" textLength="146" lengthAdjust="spacingAndGlyphs">targets are shown.</text>
</g>
</svg>
